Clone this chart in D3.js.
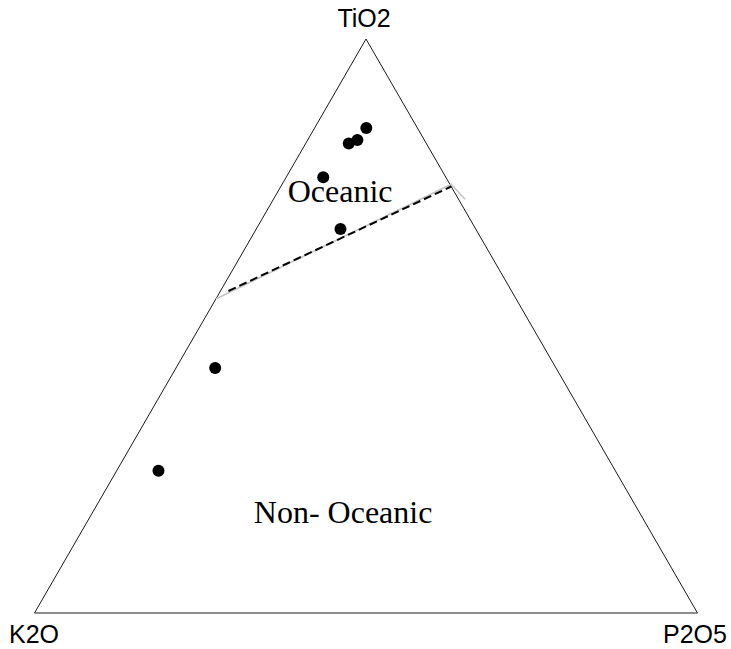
<!DOCTYPE html>
<html>
<head>
<meta charset="utf-8">
<script src="https://cdn.jsdelivr.net/npm/d3@7"></script>
<style>
  html, body { margin: 0; padding: 0; background: #fff; }
  svg { display: block; }
</style>
</head>
<body>
<script>
// Ternary plot TiO2 – K2O – P2O5 (wt% normalised), oceanic / non-oceanic discrimination
const apexLabels = ["TiO2", "K2O", "P2O5"];

// Sample compositions, each [TiO2, K2O, P2O5]
const sampleTiO2 = [84.5, 82.4, 81.8, 75.9, 66.9, 42.7, 24.8];
const sampleK2O  = [7.7, 10.1, 11.7, 18.5, 20.4, 51.4, 68.9];
const sampleP2O5 = [7.8, 7.5, 6.5, 5.6, 12.7, 5.9, 6.3];

// Field boundary (dashed) and its guide line (grey), [TiO2, K2O, P2O5]
const boundaryDashed = [[56.1, 42.7, 1.2], [74.3, 0.0, 25.7]];
const boundaryGrey   = [[54.7, 45.3, 0.0], [74.7, -0.2, 25.5], [72.1, -1.0, 28.9]];

const fieldLabels = [
  { text: "Oceanic",      at: [71.6, 18.1, 10.3] },
  { text: "Non- Oceanic", at: [15.7, 45.6, 38.7] }
];

const width = 731, height = 649;
const svg = d3.select("body").append("svg")
  .attr("width", width).attr("height", height);

// Unit triangle: u horizontal (0..1), v vertical (0..1)
const x = d3.scaleLinear().domain([0, 1]).range([34.5, 697.5]);
const y = d3.scaleLinear().domain([0, 1]).range([613, 39]);

function project(c) {
  const s = c[0] + c[1] + c[2];
  const t = c[0] / s, p = c[2] / s;
  return [x(p + t / 2), y(t)];
}

const line = d3.line();

// Triangle outline
const corners = [[100, 0, 0], [0, 100, 0], [0, 0, 100]];
svg.append("path")
  .attr("d", line(corners.map(project)) + "Z")
  .attr("fill", "none")
  .attr("stroke", "#1a1a1a")
  .attr("stroke-width", 1);

// Boundary lines
svg.append("path")
  .attr("d", line(boundaryGrey.map(project)))
  .attr("fill", "none")
  .attr("stroke", "#c4c4c4")
  .attr("stroke-width", 1.5);

svg.append("path")
  .attr("d", line(boundaryDashed.map(project)))
  .attr("fill", "none")
  .attr("stroke", "#000")
  .attr("stroke-width", 2)
  .attr("stroke-dasharray", "8,4");

// Field labels
svg.selectAll("text.field")
  .data(fieldLabels)
  .join("text")
  .attr("class", "field")
  .attr("x", d => project(d.at)[0])
  .attr("y", d => project(d.at)[1])
  .attr("text-anchor", "middle")
  .attr("font-family", "'Liberation Serif', 'Times New Roman', serif")
  .attr("font-size", 32)
  .attr("fill", "#000")
  .text(d => d.text);

// Samples
const samples = sampleTiO2.map((t, i) => [t, sampleK2O[i], sampleP2O5[i]]);
svg.selectAll("circle.sample")
  .data(samples)
  .join("circle")
  .attr("class", "sample")
  .attr("cx", d => project(d)[0])
  .attr("cy", d => project(d)[1])
  .attr("r", 6)
  .attr("fill", "#000");

// Apex labels
const labelFont = "'Liberation Sans', Arial, sans-serif";
svg.append("text")
  .attr("x", project(corners[0])[0] - 2).attr("y", 27)
  .attr("text-anchor", "middle")
  .attr("font-family", labelFont).attr("font-size", 25)
  .text(apexLabels[0]);
svg.append("text")
  .attr("x", 9).attr("y", 643)
  .attr("text-anchor", "start")
  .attr("font-family", labelFont).attr("font-size", 25)
  .text(apexLabels[1]);
svg.append("text")
  .attr("x", 663).attr("y", 643)
  .attr("text-anchor", "start")
  .attr("font-family", labelFont).attr("font-size", 25)
  .text(apexLabels[2]);
</script>
</body>
</html>
